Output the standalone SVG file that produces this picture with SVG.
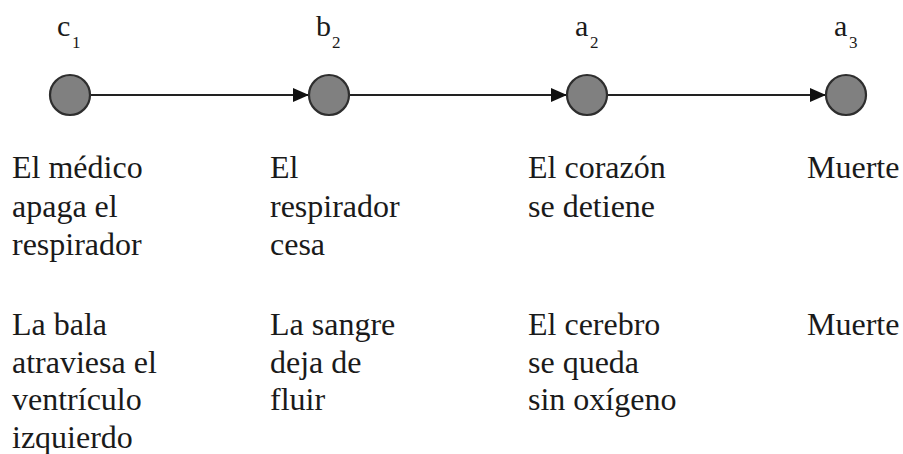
<svg xmlns="http://www.w3.org/2000/svg" width="903" height="454" viewBox="0 0 903 454">
<style>
.t{font-family:"Liberation Serif","Times New Roman",serif;font-size:32px;fill:#1a1a1a}
.v{font-family:"Liberation Serif","Times New Roman",serif;font-size:30px;fill:#1a1a1a}
.s{font-size:17px}
.n{fill:#808080;stroke:#2e2e2e;stroke-width:2.2}
.e{stroke:#222;stroke-width:2.2;fill:none}
</style>
<defs>
<marker id="ah" markerUnits="userSpaceOnUse" markerWidth="17" markerHeight="14" refX="16" refY="7" orient="auto">
<path d="M0,0 L16,7 L0,14 z" fill="#111"/>
</marker>
</defs>
<rect width="903" height="454" fill="#fff"/>
<g id="connectors">
<line class="e" x1="90" y1="95" x2="309" y2="95" marker-end="url(#ah)"/>
<line class="e" x1="349" y1="95" x2="567" y2="95" marker-end="url(#ah)"/>
<line class="e" x1="607" y1="95" x2="826" y2="95" marker-end="url(#ah)"/>
</g>
<g id="c1">
<circle class="n" cx="70" cy="95" r="20"/>
<text class="v" x="57" y="36">c<tspan class="s" x="72" y="48">1</tspan></text>
</g>
<g id="b2">
<circle class="n" cx="329" cy="95" r="20"/>
<text class="v" x="316" y="36">b<tspan class="s" x="332" y="48">2</tspan></text>
</g>
<g id="a2">
<circle class="n" cx="587" cy="95" r="20"/>
<text class="v" x="575" y="36">a<tspan class="s" x="590" y="48">2</tspan></text>
</g>
<g id="a3">
<circle class="n" cx="846" cy="95" r="20"/>
<text class="v" x="834" y="36">a<tspan class="s" x="849" y="48">3</tspan></text>
</g>
<g id="row1">
<text class="t" x="12" y="178"><tspan x="12">El médico</tspan><tspan x="12" dy="38.5">apaga el</tspan><tspan x="12" dy="38.5">respirador</tspan></text>
<text class="t" x="270" y="178"><tspan x="270">El</tspan><tspan x="270" dy="38.5">respirador</tspan><tspan x="270" dy="38.5">cesa</tspan></text>
<text class="t" x="528" y="178"><tspan x="528">El corazón</tspan><tspan x="528" dy="38.5">se detiene</tspan></text>
<text class="t" x="807" y="178">Muerte</text>
</g>
<g id="row2">
<text class="t" x="12" y="335"><tspan x="12">La bala</tspan><tspan x="12" dy="37.5">atraviesa el</tspan><tspan x="12" dy="37.5">ventrículo</tspan><tspan x="12" dy="37.5">izquierdo</tspan></text>
<text class="t" x="270" y="335"><tspan x="270">La sangre</tspan><tspan x="270" dy="37.5">deja de</tspan><tspan x="270" dy="37.5">fluir</tspan></text>
<text class="t" x="528" y="335"><tspan x="528">El cerebro</tspan><tspan x="528" dy="37.5">se queda</tspan><tspan x="528" dy="37.5">sin oxígeno</tspan></text>
<text class="t" x="807" y="335">Muerte</text>
</g>
</svg>
